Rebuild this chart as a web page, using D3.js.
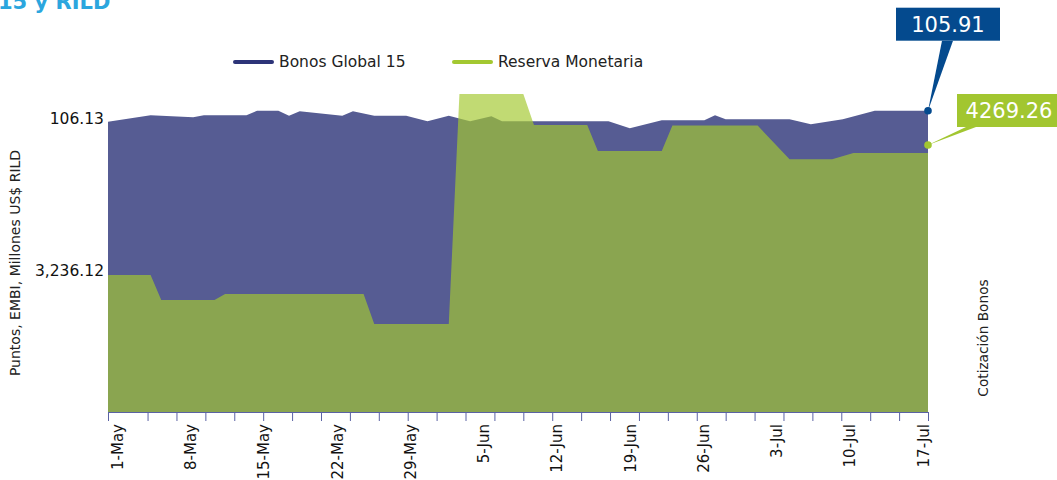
<!DOCTYPE html>
<html>
<head>
<meta charset="utf-8">
<script src="https://cdn.jsdelivr.net/npm/d3@7"></script>
<style>
  body { margin: 0; background: #fff; }
  text { font-family: "DejaVu Sans", Verdana, sans-serif; }
</style>
</head>
<body>
<script>
const width = 1057;
const height = 480;
const plot = ({left: 108, right: 928, top: 94, bottom: 412});

// Bonos Global 15 (cotización)
const bonosDates = ["2014-05-01", "2014-05-05", "2014-05-09", "2014-05-10", "2014-05-14", "2014-05-15",
  "2014-05-17", "2014-05-18", "2014-05-19", "2014-05-23", "2014-05-24", "2014-05-26", "2014-05-29",
  "2014-05-31", "2014-06-02", "2014-06-04", "2014-06-06", "2014-06-07", "2014-06-17", "2014-06-19",
  "2014-06-22", "2014-06-26", "2014-06-27", "2014-06-28", "2014-07-04", "2014-07-06", "2014-07-09",
  "2014-07-12", "2014-07-17"];
const bonosValues = [106.13, 106.00, 106.04, 106.00, 106.00, 105.91,
  105.91, 106.01, 105.92, 106.01, 105.92, 106.01, 106.01,
  106.12, 106.01, 106.12, 106.02, 106.12, 106.12, 106.26,
  106.10, 106.10, 106.00, 106.08, 106.08, 106.18, 106.08,
  105.91, 105.91];

// Reserva Monetaria (millones US$)
const reservaDates = ["2014-05-01", "2014-05-05", "2014-05-06", "2014-05-11", "2014-05-12", "2014-05-25",
  "2014-05-26", "2014-06-02", "2014-06-03", "2014-06-09", "2014-06-10", "2014-06-15", "2014-06-16",
  "2014-06-22", "2014-06-23", "2014-07-01", "2014-07-04", "2014-07-08", "2014-07-10", "2014-07-17"];
const reservaValues = [3236.12, 3236.12, 3024.40, 3024.40, 3075.20, 3075.20,
  2821.20, 2821.20, 4768.90, 4768.90, 4506.40, 4506.40, 4286.20,
  4286.20, 4502.00, 4502.00, 4215.90, 4215.90, 4269.26, 4269.26];

const labelDates = ["2014-05-01", "2014-05-08", "2014-05-15", "2014-05-22", "2014-05-29", "2014-06-05",
  "2014-06-12", "2014-06-19", "2014-06-26", "2014-07-03", "2014-07-10", "2014-07-17"];

const seriesNames = ["Bonos Global 15", "Reserva Monetaria"];
const colors = ({bonosArea: "#565c93", bonosLine: "#2d3478", reserva: "#a3c831", bonosBox: "#044a8e", reservaBox: "#a2c630"});

const parse = d3.timeParse("%Y-%m-%d");
const bonos = bonosDates.map((d, i) => ({date: parse(d), value: bonosValues[i]}));
const reserva = reservaDates.map((d, i) => ({date: parse(d), value: reservaValues[i]}));

let svg = null;
let x = null, xLab = null, yB = null, yG = null;

function initializeScales() {
    x = d3.scaleTime()
        .domain([parse("2014-05-01"), parse("2014-07-17")])
        .range([plot.left, plot.right]);
    xLab = d3.scaleTime()
        .domain(x.domain())
        .range([plot.left + 9, plot.right - 5]);
    // bond axis runs reversed, anchored on first / last quote
    yB = d3.scaleLinear()
        .domain([bonosValues[0], bonosValues[bonosValues.length - 1]])
        .range([121.7, 110.7]);
    yG = d3.scaleLinear()
        .domain([reservaValues[0], reservaValues[reservaValues.length - 1]])
        .range([275, 153]);
}

function drawChart() {
    svg = d3.select("body")
        .append("svg")
        .attr("width", width)
        .attr("height", height);

    svg.append("text")
        .attr("x", -2)
        .attr("y", 9)
        .attr("fill", "#2ba6de")
        .attr("font-family", "'Open Sans', sans-serif")
        .attr("font-weight", "bold")
        .attr("font-size", 21)
        .text("15 y RILD");

    const areaB = d3.area()
        .x(d => x(d.date))
        .y0(plot.bottom)
        .y1(d => yB(d.value));
    const areaG = d3.area()
        .x(d => x(d.date))
        .y0(plot.bottom)
        .y1(d => yG(d.value));

    svg.append("path")
        .datum(bonos)
        .attr("fill", colors.bonosArea)
        .attr("d", areaB);

    svg.append("path")
        .datum(reserva)
        .attr("fill", colors.reserva)
        .attr("fill-opacity", 0.68)
        .attr("d", areaG);

    // ticks
    const step = 19 / 7 * 864e5;
    const end = x.domain()[1];
    const tickVals = [x.domain()[0]].concat(d3.range(0, 28).map(k => new Date(end - k * step)));
    const tickAxis = svg.append("g")
        .attr("transform", `translate(0,${plot.bottom})`)
        .call(d3.axisBottom(x).tickValues(tickVals).tickSize(9).tickSizeOuter(0).tickFormat(""));
    tickAxis.selectAll("line, path").attr("stroke", "#5a62a4");

    const labAxis = svg.append("g")
        .attr("transform", `translate(0,${plot.bottom})`)
        .call(d3.axisBottom(xLab).tickValues(labelDates.map(parse)).tickSize(0)
            .tickFormat(d3.timeFormat("%-d-%b")));
    labAxis.select(".domain").remove();
    labAxis.selectAll("text")
        .attr("transform", "rotate(-90)")
        .attr("x", -12)
        .attr("y", 0)
        .attr("dy", "0.35em")
        .attr("text-anchor", "end")
        .attr("font-family", "'DejaVu Sans', sans-serif")
        .attr("font-size", 15)
        .attr("fill", "#111");

    // first-value labels on the left
    svg.append("text")
        .attr("x", 104).attr("y", yB(bonosValues[0]) - 3).attr("dy", "0.35em")
        .attr("text-anchor", "end").attr("font-size", 15.5).attr("fill", "#111")
        .text(d3.format(",.2f")(bonosValues[0]));
    svg.append("text")
        .attr("x", 104).attr("y", yG(reservaValues[0]) - 4).attr("dy", "0.35em")
        .attr("text-anchor", "end").attr("font-size", 15.5).attr("fill", "#111")
        .text(d3.format(",.2f")(reservaValues[0]));

    svg.append("text")
        .attr("transform", `translate(15,263) rotate(-90)`)
        .attr("text-anchor", "middle").attr("dy", "0.35em")
        .attr("font-size", 14).attr("fill", "#222")
        .text("Puntos, EMBI, Millones US$ RILD");
    svg.append("text")
        .attr("transform", `translate(983,338) rotate(-90)`)
        .attr("text-anchor", "middle").attr("dy", "0.35em")
        .attr("font-size", 13.7).attr("fill", "#222")
        .text("Cotización Bonos");

    legend();
    callouts();
}

function legend() {
    const items = [
        {name: seriesNames[0], color: colors.bonosLine, x: 235},
        {name: seriesNames[1], color: colors.reserva, x: 454}
    ];
    const g = svg.append("g")
        .selectAll("g")
        .data(items)
        .join("g")
        .attr("transform", d => `translate(${d.x},62)`);
    g.append("line")
        .attr("x1", 0).attr("x2", 37)
        .attr("stroke", d => d.color)
        .attr("stroke-width", 4)
        .attr("stroke-linecap", "round");
    g.append("text")
        .attr("x", 44).attr("dy", "0.35em")
        .attr("font-size", 15.5).attr("fill", "#222")
        .text(d => d.name);
}

function callouts() {
    const last = bonos[bonos.length - 1];
    const bx = x(last.date), by = yB(last.value);
    svg.append("path")
        .attr("d", `M${bx},${by}L${bx + 14},${by - 70}L${bx + 25},${by - 70}Z`)
        .attr("fill", colors.bonosBox);
    svg.append("rect")
        .attr("x", bx - 32).attr("y", by - 103).attr("width", 104).attr("height", 33)
        .attr("fill", colors.bonosBox);
    svg.append("text")
        .attr("x", bx + 20).attr("y", by - 86.5).attr("dy", "0.35em")
        .attr("text-anchor", "middle").attr("font-size", 21).attr("fill", "#fff")
        .text(d3.format(".2f")(last.value));
    svg.append("circle")
        .attr("cx", bx).attr("cy", by).attr("r", 3.8)
        .attr("fill", colors.bonosBox);

    const lastG = reserva[reserva.length - 1];
    const gx = x(lastG.date), gy = yG(lastG.value) - 8;
    svg.append("path")
        .attr("d", `M${gx},${gy}L${gx + 38},${gy - 18}L${gx + 48},${gy - 18}Z`)
        .attr("fill", colors.reservaBox);
    svg.append("rect")
        .attr("x", gx + 29).attr("y", gy - 51).attr("width", 104).attr("height", 33)
        .attr("fill", colors.reservaBox);
    svg.append("text")
        .attr("x", gx + 81).attr("y", gy - 34.5).attr("dy", "0.35em")
        .attr("text-anchor", "middle").attr("font-size", 21).attr("fill", "#fff")
        .text(d3.format(".2f")(lastG.value));
    svg.append("circle")
        .attr("cx", gx).attr("cy", gy).attr("r", 3.8)
        .attr("fill", colors.reservaBox);
}

initializeScales();
drawChart();
</script>
</body>
</html>
